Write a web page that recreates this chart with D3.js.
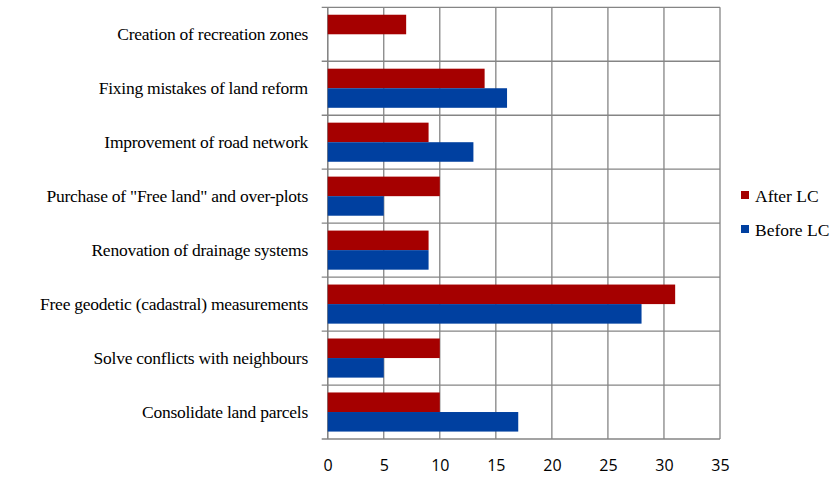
<!DOCTYPE html>
<html><head><meta charset="utf-8">
<script src="https://cdn.jsdelivr.net/npm/d3@7"></script>
<style>
body{margin:0;background:#fff;}
svg{display:block;}
</style></head>
<body>
<svg id="c" width="834" height="479"></svg>
<script>
const categories = ["Creation of recreation zones","Fixing mistakes of land reform","Improvement of road network","Purchase of \"Free land\" and over-plots","Renovation of drainage systems","Free geodetic (cadastral) measurements","Solve conflicts with neighbours","Consolidate land parcels"];
const afterLC = [7,14,9,10,9,31,10,10];
const beforeLC = [null,16,13,5,9,28,5,17];
const seriesNames = ["After LC","Before LC"];
const seriesColors = ["#A50000","#0040A0"];
const xTicks = [0,5,10,15,20,25,30,35];

const SERIF = "'Liberation Serif','Times New Roman',serif";
const svg = d3.select("#c");
const L=327.7, R=720, T=7.3, B=439;
const x = d3.scaleLinear().domain([0,35]).range([L,R]);
const y = d3.scaleBand().domain(categories).range([T,B]).paddingInner(0).paddingOuter(0);
const inner = d3.scaleBand().domain(seriesNames).range([0,y.bandwidth()]).paddingInner(0).paddingOuter(0.38);

svg.append("g").selectAll("line").data(xTicks).join("line")
  .attr("x1",d=>x(d)).attr("x2",d=>x(d)).attr("y1",T).attr("y2",B)
  .attr("stroke","#858585").attr("stroke-width",1.3);
const hs = d3.range(categories.length+1).map(i=>T+i*y.step());
svg.append("g").selectAll("line").data(hs).join("line")
  .attr("x1",L-6).attr("x2",R).attr("y1",d=>d).attr("y2",d=>d)
  .attr("stroke","#858585").attr("stroke-width",1.3);
svg.append("line").attr("x1",L).attr("x2",L).attr("y1",T).attr("y2",B).attr("stroke","#858585").attr("stroke-width",1.3);

const data = categories.map((c,i)=>({c, vals:[afterLC[i],beforeLC[i]]}));
const g = svg.append("g");
data.forEach(d=>{
  d.vals.forEach((v,j)=>{
    if(v==null) return;
    g.append("rect").attr("x",x(0)).attr("y",y(d.c)+inner(seriesNames[j]))
     .attr("width",x(v)-x(0)).attr("height",inner.bandwidth())
     .attr("fill",seriesColors[j]);
  });
});

svg.append("g").selectAll("text").data(categories).join("text")
  .attr("x",308).attr("y",d=>y(d)+y.bandwidth()/2).attr("dy","0.33em")
  .attr("text-anchor","end")
  .attr("font-family",SERIF).attr("font-size","17.5px").attr("fill","#000")
  .style("letter-spacing","-0.25px").text(d=>d);

const xa = d3.axisBottom(x).tickValues(xTicks).tickSize(0).tickPadding(0);
const ax = svg.append("g").attr("transform",`translate(0,${B+21})`).call(xa);
ax.select(".domain").remove();
ax.selectAll("text").attr("dy","0.71em").attr("fill","#000")
  .attr("font-family","'Open Sans','DejaVu Sans',sans-serif").attr("font-size","16px");

const leg = svg.append("g");
seriesNames.forEach((s,i)=>{
  const yy = 196 + i*34;
  leg.append("rect").attr("x",741).attr("y",yy-5).attr("width",8).attr("height",8).attr("fill",seriesColors[i]);
  leg.append("text").attr("x",755).attr("y",yy).attr("dy","0.33em")
    .attr("font-family",SERIF).attr("font-size","17.5px").attr("fill","#000")
    .text(s);
});
</script>
</body></html>
